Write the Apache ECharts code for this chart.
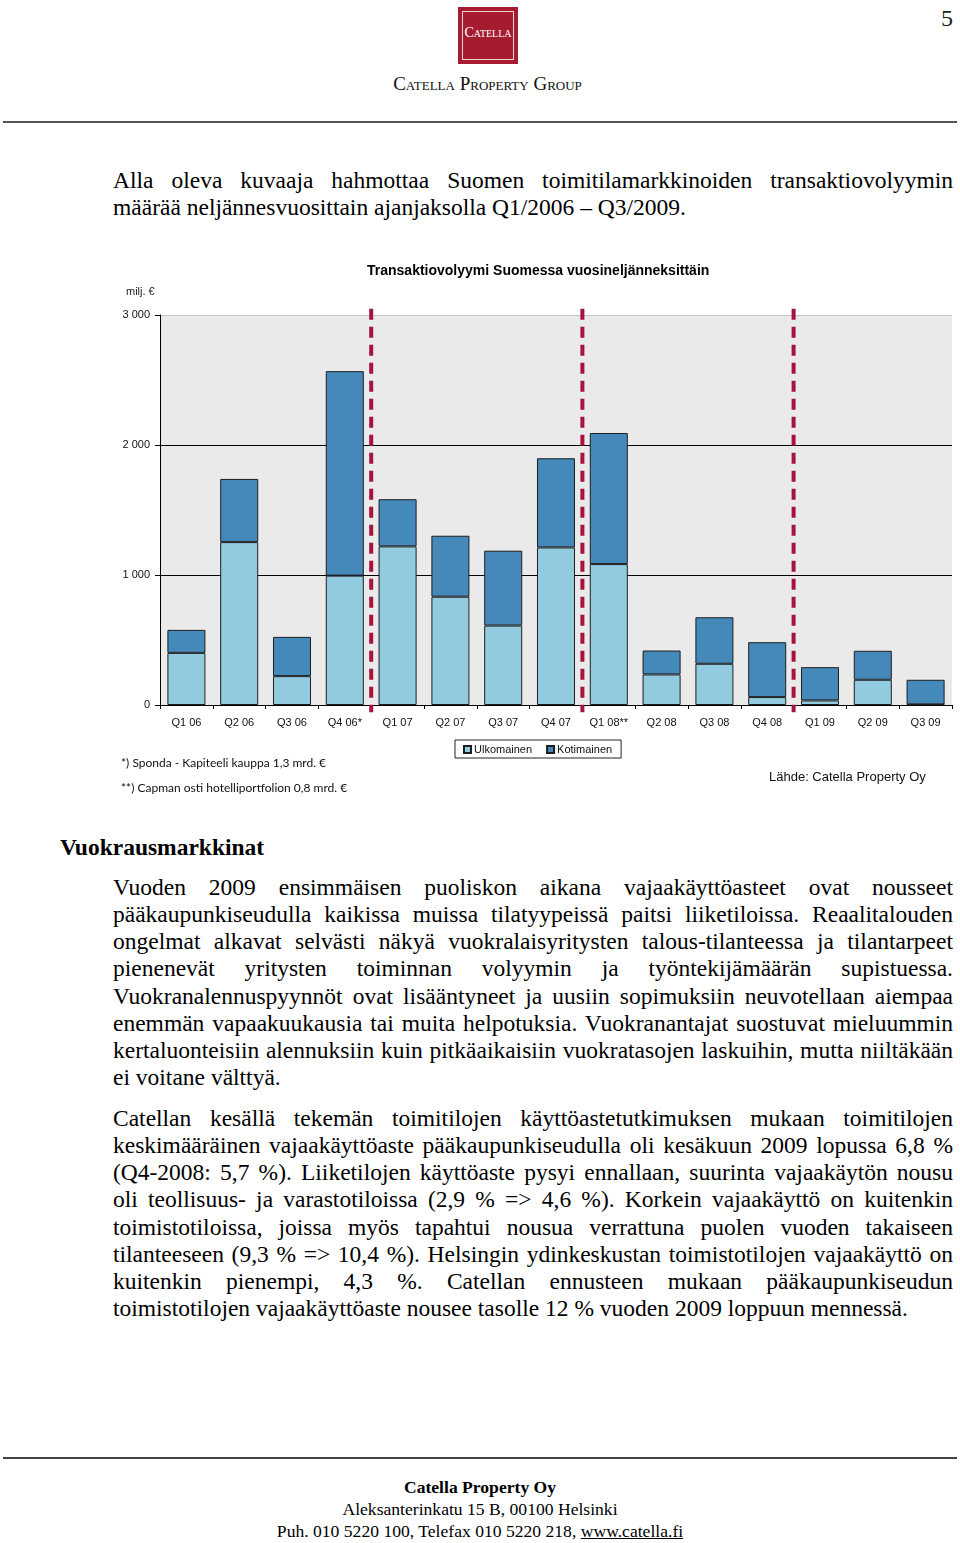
<!DOCTYPE html>
<html>
<head>
<meta charset="utf-8">
<script src="https://cdn.jsdelivr.net/npm/echarts@6/dist/echarts.min.js"></script>
<style>
  html, body { margin:0; padding:0; background:#fff; }
  body { width:960px; height:1543px; position:relative; overflow:hidden; font-family:"Liberation Serif","DejaVu Serif",serif; color:#000; }
  .abs { position:absolute; }
  .para { position:absolute; left:113px; width:840px; font-size:23.5px; line-height:27.15px; }
  .para div { text-align:justify; text-align-last:justify; white-space:nowrap; }
  .para div.last { text-align-last:left; }
  .rule { position:absolute; left:3px; width:954px; background:#555; }
</style>
</head>
<body>
<!-- header -->
<div class="abs" style="left:458px;top:7px;width:60px;height:57px;background:#a51c30;"></div>
<div class="abs" style="left:462px;top:11px;width:50px;height:47px;border:1px solid #f1d3d6;"></div>
<div class="abs" style="left:458px;top:25px;width:60px;text-align:center;color:#fff;font-size:14px;font-variant:small-caps;">Catella</div>
<div class="abs" style="left:360px;top:73px;width:255px;text-align:center;color:#111;font-size:19px;font-variant:small-caps;">Catella Property Group</div>
<div class="abs" style="left:941px;top:5px;font-size:24px;color:#222;">5</div>
<div class="rule" style="top:121px;height:2px;"></div>

<div class="para" style="top:167px;">
  <div>Alla oleva kuvaaja hahmottaa Suomen toimitilamarkkinoiden transaktiovolyymin</div>
  <div class="last">määrää neljännesvuosittain ajanjaksolla Q1/2006 – Q3/2009.</div>
</div>

<div id="chart" class="abs" style="left:100px;top:250px;width:860px;height:560px;"></div>

<div class="abs" style="left:60px;top:834px;font-size:23.5px;font-weight:bold;">Vuokrausmarkkinat</div>

<div class="para" style="top:874px;">
  <div>Vuoden 2009 ensimmäisen puoliskon aikana vajaakäyttöasteet ovat nousseet</div>
  <div>pääkaupunkiseudulla kaikissa muissa tilatyypeissä paitsi liiketiloissa. Reaalitalouden</div>
  <div>ongelmat alkavat selvästi näkyä vuokralaisyritysten talous-tilanteessa ja tilantarpeet</div>
  <div>pienenevät yritysten toiminnan volyymin ja työntekijämäärän supistuessa.</div>
  <div>Vuokranalennuspyynnöt ovat lisääntyneet ja uusiin sopimuksiin neuvotellaan aiempaa</div>
  <div>enemmän vapaakuukausia tai muita helpotuksia. Vuokranantajat suostuvat mieluummin</div>
  <div>kertaluonteisiin alennuksiin kuin pitkäaikaisiin vuokratasojen laskuihin, mutta niiltäkään</div>
  <div class="last">ei voitane välttyä.</div>
</div>

<div class="para" style="top:1105px;">
  <div>Catellan kesällä tekemän toimitilojen käyttöastetutkimuksen mukaan toimitilojen</div>
  <div>keskimääräinen vajaakäyttöaste pääkaupunkiseudulla oli kesäkuun 2009 lopussa 6,8 %</div>
  <div>(Q4-2008: 5,7 %). Liiketilojen käyttöaste pysyi ennallaan, suurinta vajaakäytön nousu</div>
  <div>oli teollisuus- ja varastotiloissa (2,9 % =&gt; 4,6 %). Korkein vajaakäyttö on kuitenkin</div>
  <div>toimistotiloissa, joissa myös tapahtui nousua verrattuna puolen vuoden takaiseen</div>
  <div>tilanteeseen (9,3 % =&gt; 10,4 %). Helsingin ydinkeskustan toimistotilojen vajaakäyttö on</div>
  <div>kuitenkin pienempi, 4,3 %. Catellan ennusteen mukaan pääkaupunkiseudun</div>
  <div class="last">toimistotilojen vajaakäyttöaste nousee tasolle 12 % vuoden 2009 loppuun mennessä.</div>
</div>

<!-- footer -->
<div class="rule" style="top:1457px;height:2px;background:#444;"></div>
<div class="abs" style="left:0;top:1476px;width:960px;text-align:center;font-size:17.6px;line-height:22px;">
  <div style="font-weight:bold;">Catella Property Oy</div>
  <div>Aleksanterinkatu 15 B, 00100 Helsinki</div>
  <div>Puh. 010 5220 100, Telefax 010 5220 218, <span style="text-decoration:underline;">www.catella.fi</span></div>
</div>

<script>
const categories = ['Q1 06','Q2 06','Q3 06','Q4 06*','Q1 07','Q2 07','Q3 07','Q4 07','Q1 08**','Q2 08','Q3 08','Q4 08','Q1 09','Q2 09','Q3 09'];
const ulkomainen = [401, 1253, 222, 995, 1220, 833, 611, 1212, 1084, 235, 317, 61, 35, 194, 5];
const kotimainen = [177, 486, 302, 1573, 363, 469, 576, 686, 1008, 184, 358, 422, 256, 223, 189];
const dividers = [4, 8, 12];   // boundaries between years (category index)
const yTicks = [0, 1000, 2000, 3000];

const sans = '"Liberation Sans", Arial, sans-serif';
const chart = echarts.init(document.getElementById('chart'), null, {renderer:'canvas'});

const dividerSeries = dividers.map(d => ({
  name: 'div' + d, type: 'line', xAxisIndex: 1, yAxisIndex: 0, clip: false,
  data: [[d, 3048], [d, -55]], symbol: 'none', silent: true, z: 5,
  lineStyle: { color: '#a8123e', width: 4, type: [11, 7], cap: 'butt' }
}));

chart.setOption({
  animation: false,
  textStyle: { fontFamily: sans },
  title: [
    { text: 'Transaktiovolyymi Suomessa vuosineljänneksittäin', left: 262, top: 9,
      textStyle: { fontSize: 14, fontWeight: 'bold', color: '#000', fontFamily: sans } },
    { text: 'milj. €', left: 21, top: 31, textStyle: { fontSize: 11, fontWeight: 'normal', color: '#222', fontFamily: sans } },
    { text: '*) Sponda - Kapiteeli kauppa 1,3 mrd. €', left: 16, top: 502,
      textStyle: { fontSize: 12, fontWeight: 'normal', color: '#111', fontFamily: 'Lato, sans-serif' } },
    { text: '**) Capman osti hotelliportfolion 0,8 mrd. €', left: 16, top: 527,
      textStyle: { fontSize: 12, fontWeight: 'normal', color: '#111', fontFamily: 'Lato, sans-serif' } },
    { text: 'Lähde: Catella Property Oy', left: 664, top: 516,
      textStyle: { fontSize: 13, fontWeight: 'normal', color: '#111', fontFamily: sans } }
  ],
  legend: {
    data: ['Ulkomainen', 'Kotimainen'],
    left: 355, top: 490,
    borderColor: '#222', borderWidth: 1, padding: [4, 9, 3, 8],
    itemWidth: 7, itemHeight: 7, itemGap: 14, icon: 'rect',
    textStyle: { fontSize: 11, color: '#111', fontFamily: sans, padding: [0, 0, 0, -2] }
  },
  grid: { left: 60, right: 8, top: 65, bottom: 105, show: true, backgroundColor: '#eaeaea', borderWidth: 0 },
  xAxis: [
    { type: 'category', data: categories, boundaryGap: true,
      axisLine: { lineStyle: { color: '#000', width: 1 } },
      axisTick: { show: true, length: 4, lineStyle: { color: '#000' } },
      axisLabel: { fontSize: 11, color: '#111', margin: 12, interval: 0 } },
    { type: 'value', min: 0, max: categories.length, show: false }
  ],
  yAxis: {
    type: 'value', min: yTicks[0], max: yTicks[yTicks.length - 1], interval: 1000,
    axisLine: { show: true, lineStyle: { color: '#000', width: 1 } },
    axisTick: { show: true, length: 5, lineStyle: { color: '#000' } },
    axisLabel: { fontSize: 11, color: '#111', margin: 10,
      formatter: v => v >= 1000 ? Math.floor(v / 1000) + ' ' + String(v % 1000).padStart(3, '0') : String(v) },
    splitLine: { show: true, lineStyle: { color: ['#000', '#000', '#000', '#c4c4c4'], width: 1 } }
  },
  series: [
    { name: 'Ulkomainen', type: 'bar', stack: 'total', data: ulkomainen, barCategoryGap: '28%',
      itemStyle: { color: '#92cadf', borderColor: '#1e1e1e', borderWidth: 1 } },
    { name: 'Kotimainen', type: 'bar', stack: 'total', data: kotimainen, barCategoryGap: '28%',
      itemStyle: { color: '#4588ba', borderColor: '#1e1e1e', borderWidth: 1 } }
  ].concat(dividerSeries)
});
</script>
</body>
</html>
